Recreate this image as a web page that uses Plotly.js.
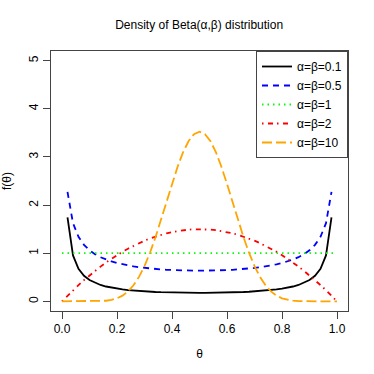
<!DOCTYPE html>
<html>
<head>
<meta charset="utf-8">
<script src="https://cdn.plot.ly/plotly-3.0.1.min.js"></script>
<style>html,body{margin:0;padding:0;background:#fff;}#chart{width:374px;height:374px;}</style>
</head>
<body>
<div id="chart"></div>
<script>
var theta = [0.00,0.02,0.04,0.06,0.08,0.10,0.12,0.14,0.16,0.18,0.20,0.22,0.24,0.26,0.28,0.30,0.32,0.34,0.36,0.38,0.40,0.42,0.44,0.46,0.48,0.50,0.52,0.54,0.56,0.58,0.60,0.62,0.64,0.66,0.68,0.70,0.72,0.74,0.76,0.78,0.80,0.82,0.84,0.86,0.88,0.90,0.92,0.94,0.96,0.98,1.00];

var dens01 = [null,1.7466,0.9535,0.6746,0.5309,0.4430,0.3836,0.3409,0.3088,0.2838,0.2640,0.2478,0.2346,0.2236,0.2144,0.2066,0.2001,0.1947,0.1901,0.1863,0.1833,0.1808,0.1790,0.1777,0.1769,0.1766,0.1769,0.1777,0.1790,0.1808,0.1833,0.1863,0.1901,0.1947,0.2001,0.2066,0.2144,0.2236,0.2346,0.2478,0.2640,0.2838,0.3088,0.3409,0.3836,0.4430,0.5309,0.6746,0.9535,1.7466,null];

var dens05 = [null,2.2736,1.6244,1.3403,1.1733,1.0610,0.9795,0.9174,0.8683,0.8285,0.7958,0.7684,0.7453,0.7257,0.7089,0.6946,0.6824,0.6720,0.6631,0.6558,0.6497,0.6449,0.6413,0.6387,0.6371,0.6366,0.6371,0.6387,0.6413,0.6449,0.6497,0.6558,0.6631,0.6720,0.6824,0.6946,0.7089,0.7257,0.7453,0.7684,0.7958,0.8285,0.8683,0.9174,0.9795,1.0610,1.1733,1.3403,1.6244,2.2736,null];

var dens1 = [1,1,1,1,1,1,1,1,1,1,1,1,1,1,1,1,1,1,1,1,1,1,1,1,1,1,1,1,1,1,1,1,1,1,1,1,1,1,1,1,1,1,1,1,1,1,1,1,1,1,1];

var dens2 = [0,0.1176,0.2304,0.3384,0.4416,0.5400,0.6336,0.7224,0.8064,0.8856,0.9600,1.0296,1.0944,1.1544,1.2096,1.2600,1.3056,1.3464,1.3824,1.4136,1.4400,1.4616,1.4784,1.4904,1.4976,1.5000,1.4976,1.4904,1.4784,1.4616,1.4400,1.4136,1.3824,1.3464,1.3056,1.2600,1.2096,1.1544,1.0944,1.0296,0.9600,0.8856,0.8064,0.7224,0.6336,0.5400,0.4416,0.3384,0.2304,0.1176,0];

var dens10 = [0,0.0000,0.0000,0.0000053,0.0000586,0.000358,0.001508,0.004912,0.01322,0.03072,0.06348,0.11918,0.20643,0.33374,0.50813,0.73374,1.01038,1.33276,1.69007,2.06607,2.44037,2.79034,3.09267,3.32593,3.47338,3.52408,3.47338,3.32593,3.09267,2.79034,2.44037,2.06607,1.69007,1.33276,1.01038,0.73374,0.50813,0.33374,0.20643,0.11918,0.06348,0.03072,0.01322,0.004912,0.001508,0.000358,0.0000586,0.0000053,0.0000,0.0000,0];

var seriesNames = ["\u03b1=\u03b2=0.1","\u03b1=\u03b2=0.5","\u03b1=\u03b2=1","\u03b1=\u03b2=2","\u03b1=\u03b2=10"];
var xTicks = [0.0,0.2,0.4,0.6,0.8,1.0];
var xTickText = ["0.0","0.2","0.4","0.6","0.8","1.0"];
var yTicks = [0,1,2,3,4,5];

var FONT = "Liberation Sans, Arial, Helvetica, sans-serif";
var LW = 1.8;
var traces = [
  {x: theta, y: dens01, name: seriesNames[0], mode: "lines", line: {color: "#000000", width: LW, dash: "solid"}},
  {x: theta, y: dens05, name: seriesNames[1], mode: "lines", line: {color: "#0000FF", width: LW, dash: "6px,5px"}},
  {x: theta, y: dens1,  name: seriesNames[2], mode: "lines", line: {color: "#00FF00", width: LW, dash: "1.5px,4px"}},
  {x: theta, y: dens2,  name: seriesNames[3], mode: "lines", line: {color: "#FF0000", width: LW, dash: "1.5px,4.5px,5px,4px"}},
  {x: theta, y: dens10, name: seriesNames[4], mode: "lines", line: {color: "#FFA500", width: LW, dash: "10px,4px"}}
];

var layout = {
  width: 374, height: 374,
  margin: {l: 51, r: 26, t: 51, b: 63, pad: 0},
  paper_bgcolor: "#ffffff", plot_bgcolor: "#ffffff",
  font: {family: FONT, size: 12, color: "#000000"},
  title: {text: "Density of Beta(\u03b1,\u03b2) distribution", font: {family: FONT, size: 12, color: "#000000"},
          x: 0.5325, xanchor: "center", y: 1 - 25/374, yanchor: "middle", xref: "container", yref: "container"},
  showlegend: true,
  legend: {x: 1, xanchor: "right", y: 1, yanchor: "top", bgcolor: "#ffffff", bordercolor: "#444444", borderwidth: 1,
           font: {family: FONT, size: 12, color: "#000000"}},
  xaxis: {range: [-0.04, 1.04], tickmode: "array", tickvals: xTicks, ticktext: xTickText,
          ticks: "outside", ticklen: 7, tickwidth: 1, tickcolor: "#444444",
          showline: true, mirror: true, linecolor: "#444444", linewidth: 1,
          showgrid: false, zeroline: false,
          tickfont: {family: FONT, size: 12, color: "#000000"},
          title: {text: "\u03b8", font: {family: FONT, size: 12, color: "#000000"}, standoff: 14}},
  yaxis: {range: [-0.2, 5.2], tickmode: "array", tickvals: yTicks,
          ticks: "outside", ticklen: 7, tickwidth: 1, tickcolor: "#444444", tickangle: -90,
          showline: true, mirror: true, linecolor: "#444444", linewidth: 1,
          showgrid: false, zeroline: false,
          tickfont: {family: FONT, size: 12, color: "#000000"},
          title: {text: "f(\u03b8)", font: {family: FONT, size: 12, color: "#000000"}, standoff: 14}}
};

Plotly.newPlot("chart", traces, layout, {displayModeBar: false, staticPlot: true});
</script>
</body>
</html>
